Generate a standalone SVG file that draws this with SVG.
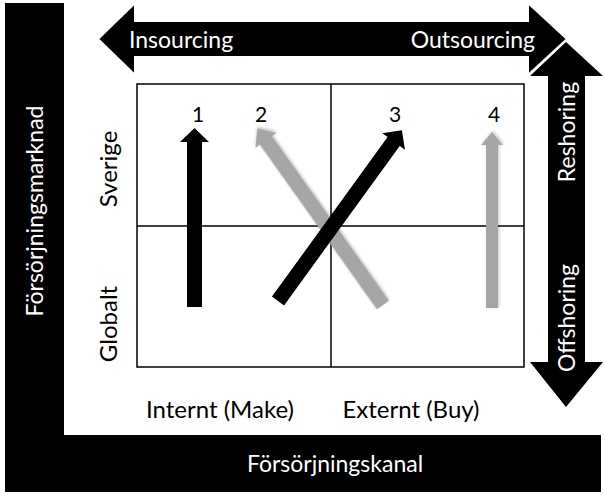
<svg xmlns="http://www.w3.org/2000/svg" width="604" height="497" viewBox="0 0 604 497">
<style>
.wt{font-family:Lato,"Liberation Sans",sans-serif;fill:#fff;font-size:23px}
.bt{font-family:Lato,"Liberation Sans",sans-serif;fill:#000;font-size:24px}
.nt{font-family:Lato,"Liberation Sans",sans-serif;fill:#000;font-size:21px}
.grid{fill:none;stroke:#000;stroke-width:1.5}
.blk{fill:#000}
.gry{fill:#a6a6a6;filter:url(#sh)}
</style>
<defs>
<filter id="sh" x="-20%" y="-20%" width="140%" height="140%">
<feGaussianBlur in="SourceAlpha" stdDeviation="1.5" result="b"/>
<feOffset dx="1" dy="1" result="o"/>
<feFlood flood-color="#000" flood-opacity="0.25"/>
<feComposite in2="o" operator="in" result="s"/>
<feMerge><feMergeNode in="s"/><feMergeNode in="SourceGraphic"/></feMerge>
</filter>
</defs>
<rect width="604" height="497" fill="#fff"/>
<g id="market-bar">
<path class="blk" d="M5,3 H64 V435 H601 V492 H5 Z"/>
<text class="wt" transform="translate(43,211) rotate(-90)" text-anchor="middle">Försörjningsmarknad</text>
<text class="wt" x="335" y="472" text-anchor="middle">Försörjningskanal</text>
</g>
<g id="shoring-arrow">
<polygon class="blk" points="566,42 603,76 585,76 585,362 603,362 566,407 530,362 548,362 548,76 530,76"/>
<text class="wt" transform="translate(575,132) rotate(-90)" text-anchor="middle">Reshoring</text>
<text class="wt" transform="translate(575,318) rotate(-90)" text-anchor="middle">Offshoring</text>
</g>
<g id="sourcing-arrow">
<polygon class="blk" stroke="#fff" stroke-width="2" points="98,39 135,3 135,21 528,21 528,3 567,39 528,75 528,57 135,57 135,75"/>
<text class="wt" x="129" y="48">Insourcing</text>
<text class="wt" x="535" y="48" text-anchor="end">Outsourcing</text>
</g>
<g id="grid">
<rect class="grid" x="137" y="84" width="387" height="283"/>
<line class="grid" x1="331" y1="84" x2="331" y2="367"/>
<line class="grid" x1="137" y1="226" x2="524" y2="226"/>
<text class="bt" transform="translate(117,169) rotate(-90)" text-anchor="middle">Sverige</text>
<text class="bt" transform="translate(117,324) rotate(-90)" text-anchor="middle">Globalt</text>
<text class="bt" x="220" y="418" text-anchor="middle">Internt (Make)</text>
<text class="bt" x="411" y="418" text-anchor="middle">Externt (Buy)</text>
</g>
<g id="connectors">
<g id="arrow-1">
<polygon class="blk" transform="translate(194.5,307) rotate(-90)" points="0,-7.5 165,-7.5 165,-14.5 179,0 165,14.5 165,7.5 0,7.5"/>
<text class="nt" x="198" y="122" text-anchor="middle">1</text>
</g>
<g id="arrow-2">
<polygon class="gry" transform="translate(383,305) rotate(-125.4)" points="0,-7.5 202,-7.5 202,-13 217,0 202,13 202,7.5 0,7.5"/>
<text class="nt" x="261" y="122" text-anchor="middle">2</text>
</g>
<g id="arrow-3">
<polygon class="blk" transform="translate(278,301) rotate(-54.05)" points="0,-7.5 197,-7.5 197,-14 211,0 197,14 197,7.5 0,7.5"/>
<text class="nt" x="395" y="122" text-anchor="middle">3</text>
</g>
<g id="arrow-4">
<polygon class="gry" transform="translate(492,308) rotate(-90)" points="0,-6 163,-6 163,-11 176,0 163,11 163,6 0,6"/>
<text class="nt" x="494" y="122" text-anchor="middle">4</text>
</g>
</g>
</svg>
